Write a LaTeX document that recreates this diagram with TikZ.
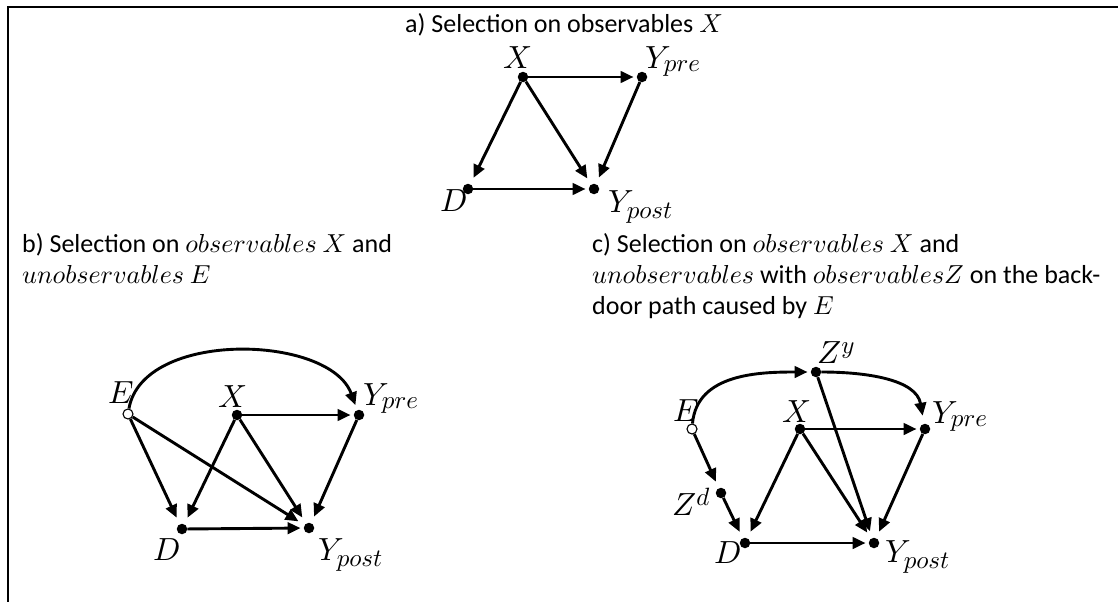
\documentclass[tikz,border=0pt]{standalone}
\usepackage{fontspec}
\setmainfont{Carlito}
\DeclareFontFamily{OML}{cmm}{\skewchar\font'177}
\DeclareFontShape{OML}{cmm}{m}{it}{<-> cmmi10}{}
\DeclareMathSizes{32}{32}{25}{19}
\usetikzlibrary{arrows.meta}
\begin{document}
\begin{tikzpicture}[x=1pt,y=-1pt,
  dot/.style={circle,fill=black,inner sep=0pt,minimum size=10.5pt},
  odot/.style={circle,draw=black,line width=1.1pt,fill=white,inner sep=0pt,minimum size=10pt},
  arr/.style={line width=2.9pt,-{Triangle[length=13pt,width=11.5pt]},shorten >=3pt},
  darr/.style={arr,shorten >=7pt},
  lbl/.style={anchor=base west,inner sep=0pt,font=\fontsize{32}{36}\selectfont},
  txt/.style={anchor=base west,inner sep=0pt,font=\fontsize{26}{31}\selectfont},
  frame/.style={line width=2pt}
]
\useasboundingbox (0,0) rectangle (1118,602);
\coordinate (fr1) at (1118,7);
\coordinate (fr2) at (8,7);
\coordinate (fr3) at (8,602);
\draw[frame] (fr1) -- (fr2) -- (fr3);

% texts
\node[txt] (ta) at (405,33) {a) Selection on observables $X$};
\node[txt] (tb1) at (22,252) {b) Selection on $observables$ $X$ and};
\node[txt] (tb2) at (22,283) {$unobservables$ $E$};
\node[txt] (tc1) at (592,252) {c) Selection on $observables$ $X$ and};
\node[txt] (tc2) at (592,283) {$unobservables$ with $observables Z$ on the back-};
\node[txt] (tc3) at (592,314) {door path caused by $E$};

% ---------- a)
\node[dot] (aX) at (523,77) {};
\node[dot] (aYp) at (642,77) {};
\node[dot] (aD) at (468,189) {};
\node[dot] (aYq) at (594,189) {};
\node[lbl] (laX) at (503,68) {$X$};
\node[lbl] (laYp) at (645,68) {$Y_{pre}$};
\node[lbl] (laD) at (440,211) {$D$};
\node[lbl] (laYq) at (608,212) {$Y_{post}$};
\draw[arr] (aX) -- (aYp);
\draw[darr] (aX) -- (aD);
\draw[darr] (aX) -- (aYq);
\draw[darr] (aYp) -- (aYq);
\draw[arr] (aD) -- (aYq);

% ---------- b)
\node[odot] (bE) at (128,414) {};
\node[dot] (bX) at (237,415) {};
\node[dot] (bYp) at (359,415) {};
\node[dot] (bD) at (182,529) {};
\node[dot] (bYq) at (309,528) {};
\node[lbl] (lbE) at (108,403) {$E$};
\node[lbl] (lbX) at (218,407) {$X$};
\node[lbl] (lbYp) at (363,405) {$Y_{pre}$};
\node[lbl] (lbD) at (153,560) {$D$};
\node[lbl] (lbYq) at (318,560) {$Y_{post}$};
\draw[arr,shorten >=5pt] (bE) to[out=80,in=110,looseness=0.9] (bYp);
\draw[darr] (bE) -- (bD);
\draw[darr] (bE) -- (bYq);
\draw[arr] (bX) -- (bYp);
\draw[darr] (bX) -- (bD);
\draw[darr] (bX) -- (bYq);
\draw[darr] (bYp) -- (bYq);
\draw[arr] (bD) -- (bYq);

% ---------- c)
\node[dot] (cZy) at (816,372) {};
\node[odot] (cE) at (692,429) {};
\node[dot] (cX) at (800,429) {};
\node[dot] (cYp) at (925,429) {};
\node[dot] (cZd) at (721,493) {};
\node[dot] (cD) at (745,543) {};
\node[dot] (cYq) at (874,543) {};
\node[lbl] (lcZy) at (817,363) {$Z^{y}$};
\node[lbl] (lcE) at (673,421) {$E$};
\node[lbl] (lcX) at (782,422) {$X$};
\node[lbl] (lcYp) at (932,423) {$Y_{pre}$};
\node[lbl] (lcZd) at (672,515) {$Z^{d}$};
\node[lbl] (lcD) at (714,563) {$D$};
\node[lbl] (lcYq) at (885,562) {$Y_{post}$};
\draw[arr] (cE) to[out=85,in=180] (cZy);
\draw[arr,shorten >=8pt] (cZy) to[out=0,in=100] (cYp);
\draw[darr] (cE) -- (cZd);
\draw[darr] (cZd) -- (cD);
\draw[darr] (cX) -- (cD);
\draw[arr] (cX) -- (cYp);
\draw[darr] (cX) -- (cYq);
\draw[darr] (cZy) -- (cYq);
\draw[darr] (cYp) -- (cYq);
\draw[arr] (cD) -- (cYq);
\end{tikzpicture}
\end{document}
